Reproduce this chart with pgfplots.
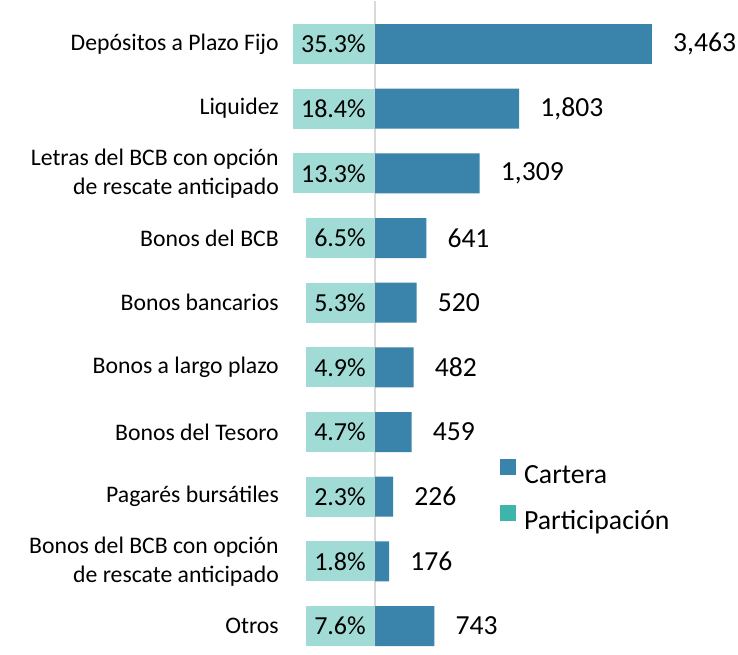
\documentclass[border=0pt]{standalone}
\usepackage{pgfplots}
\pgfplotsset{compat=1.18}
\usepackage{fontspec}
\setmainfont{Carlito}
\definecolor{cartera}{HTML}{3A83AB}
\definecolor{partbox}{HTML}{A0DCD5}
\definecolor{partleg}{HTML}{3DB5A9}
\definecolor{vline}{HTML}{D9D9D9}
\begin{document}
\begin{tikzpicture}
\begin{axis}[
  width=553.5pt, height=483.75pt, scale only axis,
  xmin=-4687.5, xmax=4537.5,
  ymin=-0.665, ymax=9.305, y dir=reverse,
  clip=false,
  axis line style={draw=none},
  xtick=\empty,
  extra x ticks={0}, extra x tick labels={},
  extra x tick style={grid=major, major grid style={vline, line width=1.5pt}},
  major tick length=0pt,
  ytick={0,...,9},
  yticklabels={Depósitos a Plazo Fijo, Liquidez, {Letras del BCB con opción\\de rescate anticipado}, Bonos del BCB, Bonos bancarios, Bonos a largo plazo, Bonos del Tesoro, Pagarés bursátiles, {Bonos del BCB con opción\\de rescate anticipado}, Otros},
  yticklabel style={inner sep=0pt, xshift=209.25pt, align=right, font=\fontsize{17.8}{22}\selectfont},
  legend style={at={(rel axis cs:0.6775,0.2900)}, anchor=north west, draw=none, fill=none, inner sep=0pt,
    font=\fontsize{20.8}{25}\selectfont, row sep=13pt,
    /tikz/every odd column/.append style={column sep=4pt}},
  legend cell align=left,
]
\addplot[xbar, bar width=30pt, bar shift=0pt, fill=cartera, draw=none,
  point meta=explicit symbolic, nodes near coords,
  every node near coord/.append style={anchor=west, inner sep=0pt, xshift=15.75pt, font=\fontsize{20.7}{24}\selectfont},
  legend image code/.code={\fill[cartera] (0pt,0pt) rectangle (12pt,12pt);}]
  coordinates {
  (3463,0) [{3,463}]
  (1803,1) [{1,803}]
  (1309,2) [{1,309}]
  (641,3) [641]
  (520,4) [520]
  (482,5) [482]
  (459,6) [459]
  (226,7) [226]
  (176,8) [176]
  (743,9) [743]
  };
\addplot[draw=none, mark=none,
  point meta=explicit symbolic, nodes near coords,
  every node near coord/.append style={anchor=east, fill=partbox, inner xsep=6pt, inner ysep=0pt, minimum height=30pt, xshift=-0.75pt, font=\fontsize{19.5}{23}\selectfont},
  legend image code/.code={\fill[partleg] (0pt,0pt) rectangle (12pt,12pt);}]
  coordinates {
  (0,0) [35.3\%]
  (0,1) [18.4\%]
  (0,2) [13.3\%]
  (0,3) [6.5\%]
  (0,4) [5.3\%]
  (0,5) [4.9\%]
  (0,6) [4.7\%]
  (0,7) [2.3\%]
  (0,8) [1.8\%]
  (0,9) [7.6\%]
  };
\legend{Cartera, Participación}
\path (rel axis cs:0,0) rectangle (rel axis cs:1,1);
\end{axis}
\end{tikzpicture}
\end{document}
